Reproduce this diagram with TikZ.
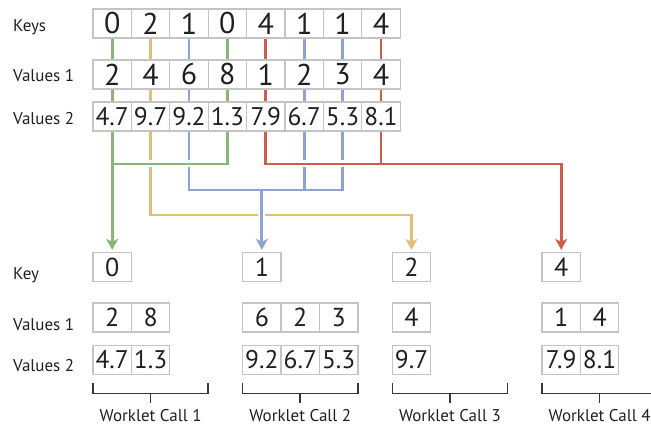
\documentclass[tikz,border=0pt]{standalone}
\usepackage{fontspec}
\setmainfont{PT Sans}
\usetikzlibrary{arrows.meta,backgrounds}
\definecolor{grn}{RGB}{138,181,122}
\definecolor{ylw}{RGB}{224,192,120}
\definecolor{blu}{RGB}{143,163,209}
\definecolor{red}{RGB}{201,96,79}
\definecolor{boxgray}{RGB}{196,196,196}
\definecolor{ink}{RGB}{35,31,32}
\tikzset{
  cell/.style={draw=boxgray, line width=1.3pt, minimum width=38.4pt, minimum height=29pt, inner sep=0pt, text=ink},
  bigcell/.style={cell, font=\fontsize{30}{30}\selectfont},
  midcell/.style={cell, font=\fontsize{25.5}{25.5}\selectfont},
  smallcell/.style={cell, font=\fontsize{26}{26}\selectfont},
  lbl/.style={anchor=base west, inner sep=0pt, text=ink, font=\fontsize{17}{17}\selectfont},
  calltxt/.style={inner sep=0pt, text=ink, font=\fontsize{17}{17}\selectfont},
  link/.style={line width=2.8pt, preaction={draw=white, line width=7pt, -}},
  tip/.style={-{Stealth[length=11pt,width=12pt,inset=3pt]}, shorten >=2pt},
  brk/.style={draw=ink!90, line width=1.6pt}
}
\begin{document}
\begin{tikzpicture}[x=1pt,y=-1pt]
\useasboundingbox (0,0) rectangle (651,425);
\def\cw{38.4} \def\xo{93} \def\gap{149.67}
% row labels
\node[lbl] (lk) at (13,32) {Keys};
\node[lbl] (lv) at (13,82) {Values 1};
\node[lbl] (lw) at (13,125) {Values 2};
\node[lbl] (mk) at (13,279) {Key};
\node[lbl] (mv) at (13,330) {Values 1};
\node[lbl] (mw) at (13,371.7) {Values 2};
% input arrays
\foreach \k/\v/\w [count=\i] in {0/2/4.7, 2/4/9.7, 1/6/9.2, 0/8/1.3, 4/1/7.9, 1/2/6.7, 1/3/5.3, 4/4/8.1}{
  \node[bigcell] (k\i) at ({\xo+\cw*(\i-0.5)},23.5) {\k};
  \node[bigcell] (a\i) at ({\xo+\cw*(\i-0.5)},74.5) {\v};
  \node[midcell] (b\i) at ({\xo+\cw*(\i-0.5)},116.5) {\w};
}
\foreach \c [count=\i] in {grn,ylw,blu,grn,red,blu,blu,red}
  \draw[color=\c, line width=2.8pt] (k\i) -- (a\i) (a\i) -- (b\i);
% one worklet call per key
\foreach \key/\vals/\wals [count=\j] in {0/{2,8}/{4.7,1.3}, 1/{6,2,3}/{9.2,6.7,5.3}, 2/{4}/{9.7}, 4/{1,4}/{7.9,8.1}}{
  \pgfmathsetmacro\gx{\xo+\gap*(\j-1)}
  \node[smallcell] (c\j) at ({\gx+0.5*\cw},267) {\key};
  \foreach \v [count=\i] in \vals
    \node[smallcell] (p\j\i) at ({\gx+\cw*(\i-0.5)},317.5) {\v};
  \foreach \w [count=\i] in \wals
    \node[midcell] (q\j\i) at ({\gx+\cw*(\i-0.5)},360) {\w};
  \draw[brk] (\gx,383.3) -- (\gx,393.3) -- ({\gx+3*\cw},393.3) -- ({\gx+3*\cw},383.3);
  \draw[brk] ({\gx+1.5*\cw},393.3) -- ({\gx+1.5*\cw},403.3);
  \node[calltxt] (w\j) at ({\gx+1.5*\cw},415.5) {Worklet Call \j};
}
% gather by key
\begin{pgfonlayer}{background}
\coordinate (yG) at (0,164); \coordinate (yB) at (0,190); \coordinate (yY) at (0,215);
\draw[link, color=ylw, tip] (b2.south) |- (c3.north |- yY) -- (c3.north);
\draw[link, color=blu, tip] (b3.south) |- (b7.south |- yB) -- (b7.south)
  (b6.south) -- (b6.south |- yB) (c2.north |- yB) -- (c2.north);
\draw[link, color=grn, tip] (b4.south) |- (b1.south |- yG) (b1.south) -- (c1.north);
\draw[link, color=red, tip] (b8.south) |- (b5.south |- yG)
  (b5.south) |- (c4.north |- yG) -- (c4.north);
\end{pgfonlayer}
\end{tikzpicture}
\end{document}
